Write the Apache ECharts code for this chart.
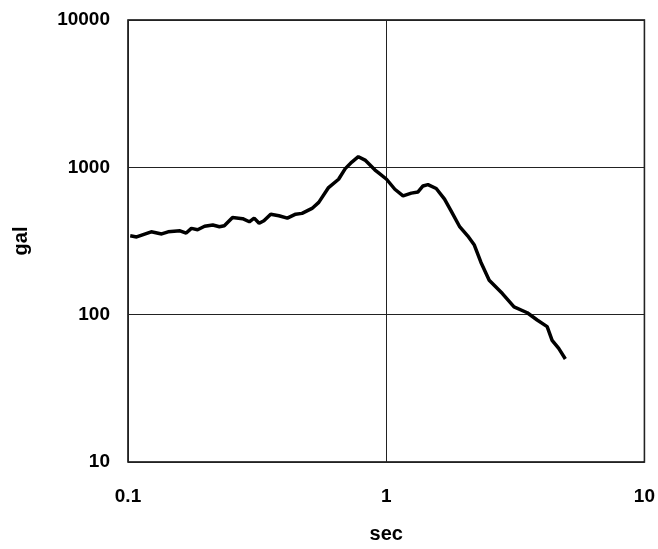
<!DOCTYPE html>
<html>
<head>
<meta charset="utf-8">
<style>
    html, body { margin: 0; padding: 0; background: #fff; }
    #chart { width: 658px; height: 549px; }
</style>
<script src="https://cdn.jsdelivr.net/npm/echarts@6/dist/echarts.min.js"></script>
</head>
<body>
<div id="chart"></div>
<script>
    // period (sec) and spectral acceleration (gal)
    var periods = [0.102, 0.108, 0.123, 0.135, 0.143, 0.159, 0.168, 0.176, 0.186, 0.198,
        0.213, 0.226, 0.236, 0.254, 0.278, 0.295, 0.308, 0.322, 0.336, 0.357,
        0.384, 0.414, 0.446, 0.472, 0.516, 0.548, 0.598, 0.654, 0.694, 0.736,
        0.780, 0.828, 0.905, 0.932, 1.003, 1.08, 1.162, 1.251, 1.328, 1.388,
        1.451, 1.562, 1.682, 1.783, 1.921, 2.067, 2.194, 2.326, 2.505, 2.818,
        3.126, 3.517, 3.842, 4.2, 4.39, 4.656, 4.94];
    var gal = [343, 337, 365, 353, 365, 371, 358, 385, 377, 398,
        406, 395, 401, 457, 448, 427, 452, 417, 434, 481,
        469, 452, 481, 487, 526, 578, 729, 830, 980, 1086,
        1181, 1120, 959, 921, 830, 710, 640, 668, 681, 747,
        764, 718, 608, 507, 398, 343, 297, 227, 171, 139,
        113, 103, 92, 83, 67, 59, 50];
    var xTicks = [0.1, 1, 10];
    var yTicks = [10, 100, 1000, 10000];

    var points = periods.map(function (p, i) { return [p, gal[i]]; });
    var fontName = 'Liberation Sans, Arial, sans-serif';
    var labelFont = { color: '#000', fontSize: 19, fontWeight: 'bold', fontFamily: fontName };
    var plain = function (v) { return String(+(+v).toPrecision(3)); };

    var myChart = echarts.init(document.getElementById('chart'));
    myChart.setOption({
        animation: false,
        grid: {
            left: 128,
            right: 10,
            top: 20,
            bottom: 85,
            show: true,
            borderColor: '#000',
            borderWidth: 1.5
        },
        xAxis: {
            type: 'log',
            logBase: 10,
            min: xTicks[0],
            max: xTicks[xTicks.length - 1],
            name: 'sec',
            nameLocation: 'middle',
            nameGap: 62,
            nameTextStyle: { color: '#000', fontSize: 20, fontWeight: 'bold', fontFamily: fontName },
            axisLine: { show: false },
            axisTick: { show: false },
            minorTick: { show: false },
            axisLabel: Object.assign({ margin: 25, formatter: plain }, labelFont),
            splitLine: { show: true, lineStyle: { color: '#222', width: 1 } }
        },
        yAxis: {
            type: 'log',
            logBase: 10,
            min: yTicks[0],
            max: yTicks[yTicks.length - 1],
            name: 'gal',
            nameLocation: 'middle',
            nameGap: 97,
            nameTextStyle: { color: '#000', fontSize: 20, fontWeight: 'bold', fontFamily: fontName },
            axisLine: { show: false },
            axisTick: { show: false },
            axisLabel: Object.assign({ margin: 18, formatter: plain }, labelFont),
            splitLine: { show: true, lineStyle: { color: '#222', width: 1 } }
        },
        series: [
            {
                type: 'line',
                data: points,
                showSymbol: false,
                symbol: 'none',
                lineStyle: { color: '#000', width: 3.5 },
                itemStyle: { color: '#000' }
            }
        ]
    });
</script>
</body>
</html>
